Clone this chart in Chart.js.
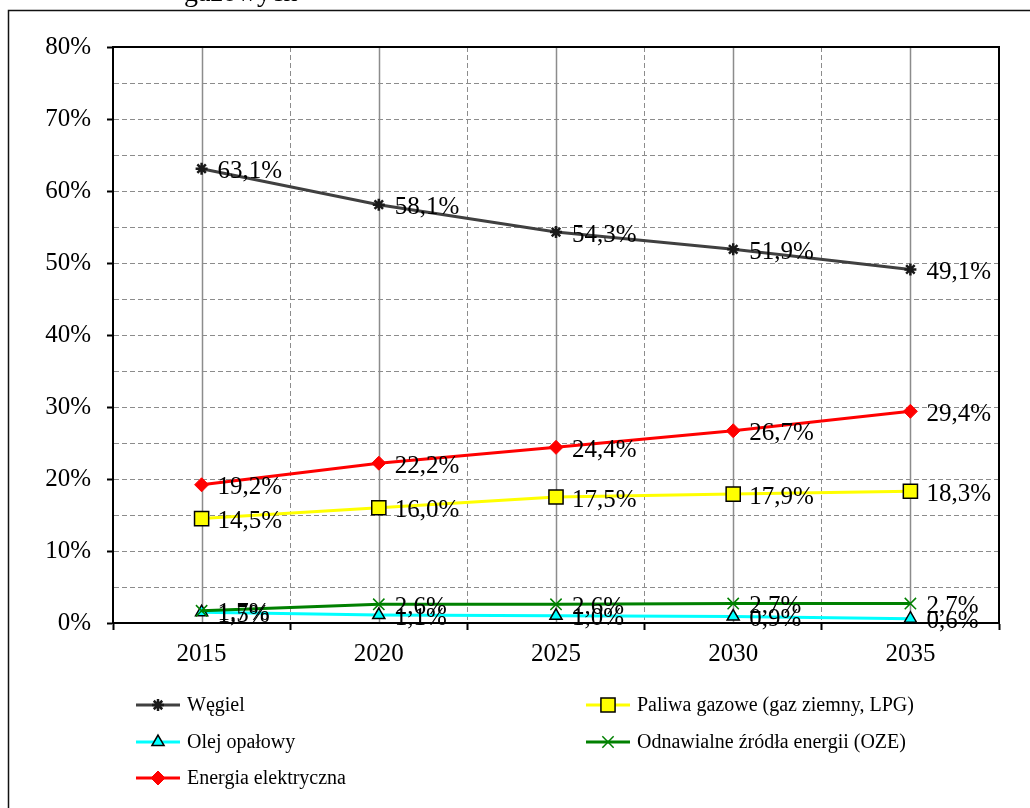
<!DOCTYPE html>
<html>
<head>
<meta charset="utf-8">
<title>Struktura zużycia paliw</title>
<script src="https://cdn.jsdelivr.net/npm/chart.js@4/dist/chart.umd.min.js"></script>
<style>
  html, body { margin: 0; padding: 0; background: #fff; }
  #wrap { position: relative; width: 1030px; height: 808px; }
</style>
</head>
<body>
<div id="wrap"><canvas id="fuelChart" width="1030" height="808"></canvas></div>
<script>
// Udział nośników energii w zużyciu (%), lata prognozy
var years = ['2015', '2020', '2025', '2030', '2035'];
var wegiel = [63.1, 58.1, 54.3, 51.9, 49.1];
var paliwaGazowe = [14.5, 16.0, 17.5, 17.9, 18.3];
var olejOpalowy = [1.5, 1.1, 1.0, 0.9, 0.6];
var oze = [1.7, 2.6, 2.6, 2.7, 2.7];
var energiaElektryczna = [19.2, 22.2, 24.4, 26.7, 29.4];
var yMin = 0, yMax = 80, yStep = 5, yLabelStep = 10;
var captionText = 'gazowych';

var SERIF = '"Liberation Serif", "Times New Roman", serif';

function fmtPct(v) {
  return v.toFixed(1).replace('.', ',') + '%';
}

// Solid category lines, plot frame and outer box
var framePlugin = {
  id: 'frame',
  beforeDatasetsDraw: function(chart) {
    var ctx = chart.ctx;
    var area = chart.chartArea;
    var xScale = chart.scales.x;
    ctx.save();
    ctx.strokeStyle = '#8c8c8c';
    ctx.lineWidth = 1.5;
    years.forEach(function(y, i) {
      var px = Math.round(xScale.getPixelForValue(i)) + 0.5;
      ctx.beginPath();
      ctx.moveTo(px, area.top);
      ctx.lineTo(px, area.bottom);
      ctx.stroke();
    });
    ctx.strokeStyle = '#000';
    ctx.lineWidth = 2;
    ctx.strokeRect(area.left, area.top, area.right - area.left, area.bottom - area.top);
    ctx.restore();
  },
  afterDraw: function(chart) {
    var ctx = chart.ctx;
    ctx.save();
    ctx.strokeStyle = '#111';
    ctx.lineWidth = 1.5;
    ctx.strokeRect(8.5, 10.5, chart.width + 20, chart.height + 20);
    // clipped caption line above the frame
    ctx.fillStyle = '#000';
    ctx.font = '28px ' + SERIF;
    ctx.textAlign = 'left';
    ctx.textBaseline = 'alphabetic';
    ctx.fillText(captionText, 184, 1);
    ctx.restore();
  }
};

// Value labels to the right of each point
var valueLabels = {
  id: 'valueLabels',
  afterDatasetsDraw: function(chart) {
    var ctx = chart.ctx;
    ctx.save();
    ctx.font = '25px ' + SERIF;
    ctx.fillStyle = '#000';
    ctx.textAlign = 'left';
    ctx.textBaseline = 'middle';
    chart.data.datasets.forEach(function(ds, di) {
      var meta = chart.getDatasetMeta(di);
      meta.data.forEach(function(pt, i) {
        ctx.fillText(fmtPct(ds.data[i]), pt.x + 16, pt.y + 3);
      });
    });
    ctx.restore();
  }
};

// Two-column legend below the plot
var legendSlots = [
  { x: 136, y: 705 }, // Węgiel
  { x: 586, y: 705 }, // Paliwa gazowe
  { x: 136, y: 742 }, // Olej opałowy
  { x: 586, y: 742 }, // OZE
  { x: 136, y: 778 }  // Energia elektryczna
];
var gridLegend = {
  id: 'gridLegend',
  afterDraw: function(chart) {
    var ctx = chart.ctx;
    ctx.save();
    chart.data.datasets.forEach(function(ds, i) {
      var s = legendSlots[i];
      ctx.strokeStyle = ds.borderColor;
      ctx.lineWidth = 3;
      ctx.beginPath();
      ctx.moveTo(s.x, s.y);
      ctx.lineTo(s.x + 44, s.y);
      ctx.stroke();
      ctx.fillStyle = ds.pointBackgroundColor;
      ctx.strokeStyle = ds.pointBorderColor;
      ctx.lineWidth = ds.pointBorderWidth;
      Chart.helpers.drawPoint(ctx, {
        pointStyle: ds.pointStyle,
        radius: ds.pointRadius,
        rotation: 0,
        borderWidth: ds.pointBorderWidth
      }, s.x + 22, s.y);
      ctx.fillStyle = '#000';
      ctx.font = '20px ' + SERIF;
      ctx.textAlign = 'left';
      ctx.textBaseline = 'middle';
      ctx.fillText(ds.label, s.x + 51, s.y + 1);
    });
    ctx.restore();
  }
};

function series(label, data, color, style, fill, border, radius, bw, order) {
  return {
    label: label,
    data: data,
    borderColor: color,
    backgroundColor: color,
    borderWidth: 3,
    pointStyle: style,
    pointRadius: radius,
    pointHoverRadius: radius,
    pointBackgroundColor: fill,
    pointBorderColor: border,
    pointBorderWidth: bw,
    tension: 0,
    order: order
  };
}

var ctx = document.getElementById('fuelChart').getContext('2d');
new Chart(ctx, {
  type: 'line',
  data: {
    labels: years,
    datasets: [
      series('Węgiel', wegiel, '#404040', 'star', '#1a1a1a', '#1a1a1a', 6, 2.5, 1),
      series('Paliwa gazowe (gaz ziemny, LPG)', paliwaGazowe, '#ffff00', 'rect', '#ffff00', '#000', 10, 1.5, 1),
      series('Olej opałowy', olejOpalowy, '#00ffff', 'triangle', '#00ffff', '#000', 7, 1.5, 2),
      series('Odnawialne źródła energii (OZE)', oze, '#008000', 'crossRot', '#008000', '#008000', 8, 1.5, 1),
      series('Energia elektryczna', energiaElektryczna, '#ff0000', 'rectRot', '#ff0000', '#ff0000', 7, 1, 1)
    ]
  },
  options: {
    responsive: false,
    animation: false,
    devicePixelRatio: 1,
    layout: { padding: { top: 47, right: 31, left: 0, bottom: 0 } },
    plugins: {
      legend: { display: false },
      tooltip: { enabled: false },
      title: { display: false }
    },
    scales: {
      x: {
        offset: true,
        afterFit: function(scale) { scale.height = 185; },
        grid: {
          offset: true,
          color: '#8c8c8c',
          lineWidth: 1,
          tickColor: '#000',
          tickLength: 7,
          tickWidth: 2,
          tickBorderDash: []
        },
        border: { display: true, color: '#000', width: 2, dash: [5, 3] },
        ticks: {
          color: '#000',
          padding: 9,
          maxRotation: 0,
          font: { family: SERIF, size: 25 }
        }
      },
      y: {
        min: yMin,
        max: yMax,
        afterFit: function(scale) { scale.width = 113; },
        grid: {
          color: '#8c8c8c',
          lineWidth: 1,
          tickLength: 6,
          tickWidth: 2,
          tickBorderDash: [],
          tickColor: function(c) {
            return c.tick && c.tick.value % yLabelStep === 0 ? '#000' : 'rgba(0,0,0,0)';
          }
        },
        border: { display: true, color: '#000', width: 2, dash: [5, 3] },
        ticks: {
          stepSize: yStep,
          color: '#000',
          padding: 16,
          font: { family: SERIF, size: 25 },
          callback: function(value) {
            return value % yLabelStep === 0 ? value + '%' : '';
          }
        }
      }
    }
  },
  plugins: [framePlugin, valueLabels, gridLegend]
});
</script>
</body>
</html>
